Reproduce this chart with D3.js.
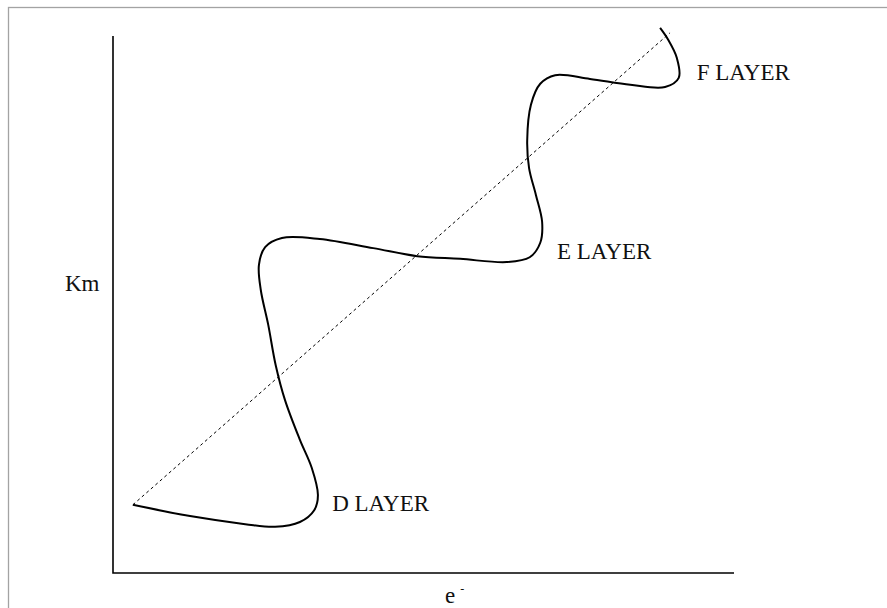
<!DOCTYPE html>
<html>
<head>
<meta charset="utf-8">
<script src="https://cdn.jsdelivr.net/npm/d3@7"></script>
<style>
  body { margin: 0; background: #fff; }
  text { font-family: 'Liberation Serif', serif; fill: #111; }
</style>
</head>
<body>
<div id="app"></div>
<script>
'use strict'

// electron density (x) vs height (y), both in arbitrary 0-100 units
const profileX = [3.2, 12.4, 21.3, 26.1, 30.1, 32.4, 33.0, 32.0, 30.1, 27.7, 26.2, 25.0, 23.8, 23.5,
  24.5, 27.2, 33.3, 41.9, 49.0, 55.9, 63.4, 67.1, 68.8, 69.1, 68.1, 67.0, 66.7, 67.3, 68.8,
  71.2, 76.8, 83.3, 88.9, 91.1, 90.8, 89.4, 88.1]
const profileY = [12.7, 10.6, 9.1, 8.6, 9.5, 11.7, 14.5, 19.6, 24.8, 32.2, 38.7, 46.2, 52.7, 57.4,
  60.7, 62.4, 62.2, 60.5, 59.0, 58.5, 57.9, 58.8, 61.5, 65.4, 70.4, 75.4, 80.6, 87.2, 91.1,
  92.7, 92.0, 90.9, 90.5, 92.2, 95.9, 99.3, 101.5]

// straight reference trend
const trendX = [3.2, 89.7]
const trendY = [12.7, 100.6]

const layerNames = ['D LAYER', 'E LAYER', 'F LAYER']
const layerX = [35.3, 71.5, 94.0]
const layerY = [11.5, 58.5, 91.8]

const xLabel = 'e'
const yLabel = 'Km'

const width = 887
const height = 608
const margin = { top: 36, right: 153, bottom: 35, left: 113 }

const svg = d3.select('#app').append('svg')
  .attr('width', width)
  .attr('height', height)

// outer frame
svg.append('rect')
  .attr('x', 8.5)
  .attr('y', 7.5)
  .attr('width', width)
  .attr('height', height)
  .style('fill', 'none')
  .style('stroke', '#a3a3a3')
  .style('stroke-width', 1.3)

const x = d3.scaleLinear().domain([0, 100]).range([margin.left, width - margin.right])
const y = d3.scaleLinear().domain([0, 100]).range([height - margin.bottom, margin.top])

// plain axes, no ticks
svg.append('path')
  .attr('d', `M${x(0)},${y(100)}V${y(0)}H${x(100)}`)
  .style('fill', 'none')
  .style('stroke', '#000')
  .style('stroke-width', 1.6)

const line = d3.line()
  .x(d => x(d[0]))
  .y(d => y(d[1]))

svg.append('path')
  .datum(d3.zip(trendX, trendY))
  .attr('d', line)
  .style('fill', 'none')
  .style('stroke', '#000')
  .style('stroke-width', 1)
  .style('stroke-dasharray', '3,3')

svg.append('path')
  .datum(d3.zip(profileX, profileY))
  .attr('d', line.curve(d3.curveCatmullRom.alpha(0.5)))
  .style('fill', 'none')
  .style('stroke', '#000')
  .style('stroke-width', 2)

svg.selectAll('.layer')
  .data(layerNames)
  .enter().append('text')
  .attr('class', 'layer')
  .attr('x', (d, i) => x(layerX[i]))
  .attr('y', (d, i) => y(layerY[i]))
  .style('font-size', '23px')
  .text(d => d)

svg.append('text')
  .attr('x', 65)
  .attr('y', 291)
  .style('font-size', '23px')
  .text(yLabel)

const xl = svg.append('text')
  .attr('x', 445)
  .attr('y', 603)
  .style('font-size', '23px')
  .text(xLabel)
xl.append('tspan')
  .attr('dx', 5)
  .attr('dy', -10)
  .style('font-size', '12px')
  .text('-')
</script>
</body>
</html>
